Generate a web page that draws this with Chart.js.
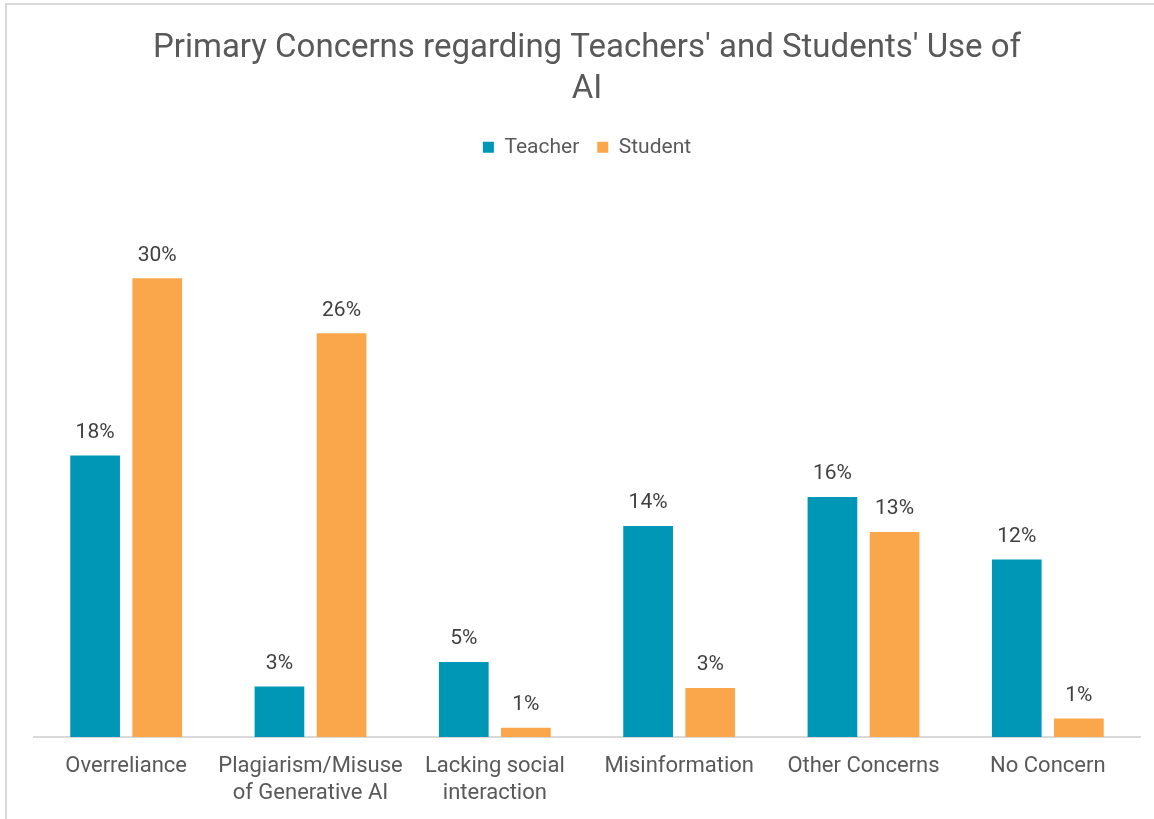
<!DOCTYPE html>
<html>
<head>
<meta charset="utf-8">
<script src="https://cdn.jsdelivr.net/npm/chart.js@4"></script>
<style>
  html, body { margin: 0; padding: 0; background: #fff; }
  #wrap { width: 1154px; height: 819px; position: relative; }
</style>
</head>
<body>
<div id="wrap"><canvas id="concernsChart"></canvas></div>
<script>
// Survey categories and shares (percent)
const categories = [
    'Overreliance',
    ['Plagiarism/Misuse', 'of Generative AI'],
    ['Lacking social', 'interaction'],
    'Misinformation',
    'Other Concerns',
    'No Concern'
];
const teacherShare = [18.4, 3.3, 4.9, 13.8, 15.7, 11.6];
const studentShare = [30.0, 26.4, 0.6, 3.2, 13.4, 1.2];
const yTicks = [0, 5, 10, 15, 20, 25, 30, 35];

const textColor = '#595959';
const fontFamily = 'Roboto, "Open Sans", sans-serif';

// Value labels above each bar
const barLabels = {
    id: 'barLabels',
    afterDatasetsDraw(chart) {
        const ctx = chart.ctx;
        ctx.save();
        ctx.font = '21px ' + fontFamily;
        ctx.fillStyle = '#404040';
        ctx.textAlign = 'center';
        ctx.textBaseline = 'middle';
        chart.data.datasets.forEach((ds, i) => {
            chart.getDatasetMeta(i).data.forEach((bar, j) => {
                ctx.fillText(Math.round(ds.data[j]) + '%', bar.x, bar.y - 23);
            });
        });
        ctx.restore();
    }
};

// Extra room between the legend and the bars
const legendGap = {
    id: 'legendGap',
    beforeInit(chart) {
        const fit = chart.legend.fit;
        chart.legend.fit = function () {
            fit.call(this);
            this.height += 34;
        };
    }
};

// Thin frame along the top and left edges
const frame = {
    id: 'frame',
    beforeDraw(chart) {
        const ctx = chart.ctx;
        ctx.save();
        ctx.strokeStyle = '#d9d9d9';
        ctx.lineWidth = 2;
        ctx.beginPath();
        ctx.moveTo(6, chart.height);
        ctx.lineTo(6, 4);
        ctx.lineTo(chart.width, 4);
        ctx.stroke();
        ctx.restore();
    }
};

const ctx = document.getElementById('concernsChart').getContext('2d');
new Chart(ctx, {
    type: 'bar',
    data: {
        labels: categories,
        datasets: [
            { label: 'Teacher', data: teacherShare, backgroundColor: '#0096B5' },
            { label: 'Student', data: studentShare, backgroundColor: '#FAA64A' }
        ]
    },
    options: {
        responsive: true,
        maintainAspectRatio: false,
        animation: false,
        categoryPercentage: 0.674,
        barPercentage: 0.8,
        layout: { padding: { top: 8, left: 34, right: 14, bottom: 4 } },
        plugins: {
            title: {
                display: true,
                text: ["Primary Concerns regarding Teachers' and Students' Use of", 'AI'],
                color: textColor,
                font: { family: fontFamily, size: 33, weight: 'normal', lineHeight: 1.24 },
                padding: { top: 20, bottom: 9 }
            },
            legend: {
                position: 'top',
                labels: {
                    color: textColor,
                    font: { family: fontFamily, size: 21 },
                    boxWidth: 11,
                    boxHeight: 11,
                    padding: 18
                }
            },
            tooltip: { enabled: false }
        },
        scales: {
            x: {
                grid: { display: false },
                border: { color: '#d9d9d9', width: 2 },
                ticks: {
                    color: textColor,
                    font: { family: fontFamily, size: 22, lineHeight: 1.23 },
                    autoSkip: false,
                    maxRotation: 0,
                    minRotation: 0,
                    padding: 8
                }
            },
            y: {
                display: false,
                min: yTicks[0],
                max: yTicks[yTicks.length - 1]
            }
        }
    },
    plugins: [barLabels, legendGap, frame]
});
</script>
</body>
</html>
